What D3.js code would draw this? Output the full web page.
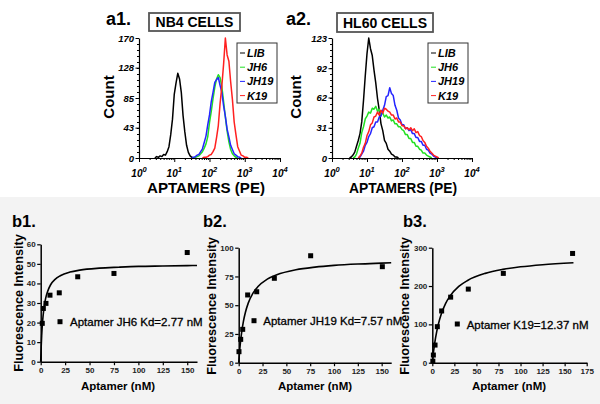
<!DOCTYPE html>
<html><head><meta charset="utf-8">
<script src="https://cdn.jsdelivr.net/npm/d3@7"></script>
<style>
body{margin:0;background:#fff}
svg{display:block}
text{font-family:"Liberation Sans",Arial,Helvetica,sans-serif}
</style>
</head><body>
<svg id="c" width="600" height="404"></svg>
<script>
// ---------- DATA ----------
// Histogram channel positions (log10 of PE fluorescence)
const histLogX = [
0.40,0.45,0.50,0.55,0.60,0.65,0.70,0.75,0.80,0.85,
0.90,0.95,1.00,1.05,1.10,1.15,1.20,1.25,1.30,1.35,
1.40,1.45,1.50,1.55,1.60,1.65,1.70,1.75,1.80,1.85,
1.90,1.95,2.00,2.05,2.10,2.15,2.20,2.25,2.30,2.35,
2.40,2.45,2.50,2.55,2.60,2.65,2.70,2.75,2.80,2.85,
2.90,2.95,3.00,3.05,3.10,3.15,3.20];
const histSeriesNames = ["LIB","JH6","JH19","K19"];
const histColors = ["#000000","#22e022","#2424ff","#ff2020"];

// a1 NB4 cells
const a1LIB = [0,0,2,1,3,2,5,4,9,16, 33,55,90,106,120,112,93,60,37,18, 8,3,1,0,0,0,0,0,0,0, 0,0,0,0,0,0,0,0,0,0, 0,0,0,0,0,0,0,0,0,0, 0,0,0,0,0,0,0];
const a1JH6 = [0,0,0,0,0,0,0,0,0,0, 0,0,0,0,0,0,0,0,0,0, 0,0,0,0,1,2,3,6,9,14, 20,30,50,66,84,100,112,118,114,101, 80,58,38,23,12,6,3,1,0,0, 0,0,0,0,0,0,0];
const a1JH19 = [0,0,0,0,0,0,0,0,0,0, 0,0,0,0,0,0,0,0,0,0, 0,0,0,1,2,4,5,9,13,22, 31,47,61,80,93,107,111,114,103,93, 74,59,41,30,18,12,6,4,2,1, 0,0,0,0,0,0,0];
const a1K19 = [0,0,0,0,0,0,0,0,0,0, 0,0,0,0,0,0,0,0,0,0, 0,0,0,0,0,0,0,0,0,1, 1,2,4,5,9,14,29,46,77,102, 133,170,146,137,108,83,51,33,16,10, 4,3,1,1,0,0,0];
// a2 HL60 cells
const a2LIB = [0,0,0,1,3,6,12,18,25,37, 59,84,107,123,112,105,90,77,61,49, 35,28,18,15,9,7,4,3,1,1, 0,0,0,0,0,0,0,0,0,0, 0,0,0,0,0,0,0,0,0,0, 0,0,0,0,0,0,0];
const a2JH6 = [0,0,0,0,0,1,4,10,15,26, 32,40,43,47,46,51,50,53,48,50, 45,46,42,44,41,42,38,39,35,35, 32,32,29,28,24,24,20,20,16,16, 12,12,9,8,5,5,3,2,1,0, 0,0,0,0,0,0,0];
const a2JH19 = [0,0,0,0,0,0,0,0,1,4, 7,13,16,22,25,31,32,37,37,42, 43,49,54,63,64,72,66,64,54,49, 41,39,34,34,30,31,28,29,25,25, 21,21,17,17,13,13,9,8,5,4, 2,1,0,0,0,0,0];
const a2K19 = [0,0,0,0,0,0,0,0,2,5, 11,15,23,27,34,36,42,43,47,44, 49,46,51,50,48,47,44,44,40,41, 37,37,33,33,30,31,29,31,28,30, 26,27,23,22,18,16,12,10,7,5, 3,2,1,0,0,0,0];

const a1YTicks = [0,43,85,128,170];
const a2YTicks = [0,31,62,92,123];
const histXTicks = [1,10,100,1000,10000];
const histXExp = ["0","1","2","3","4"];

// b panels: binding points (Aptamer nM, fluorescence intensity)
const b1X = [1.6,2.7,5.4,9.5,19,37.9,75,150];
const b1Y = [19.6,27.2,29.8,34,35.2,43.4,45.1,55.8];
const b1FitX = [0,0.5,1,2,3,4,5,7,10,15,20,30,40,60,80,100,125,150,160];
const b1FitY = [0,7.6,13.3,21.0,26.0,29.5,32.2,35.8,39.2,42.2,43.9,45.8,46.8,47.8,48.3,48.7,48.9,49.1,49.2];
const b2X = [0.3,2.1,4.2,9.4,18.9,37.4,75.5,150.7];
const b2Y = [9.6,20.3,29,58.9,61.7,73.4,93,83.5];
const b2FitX = [0,1,2,3,5,7,10,15,20,30,40,60,80,100,125,150,160];
const b2FitY = [0,10.6,19.0,25.8,36.2,43.7,51.8,60.5,66.0,72.7,76.5,80.8,83.1,84.6,85.8,86.6,86.9];
const b3X = [0.6,1.2,3.1,5.7,10.6,20.8,40.8,80.5,159];
const b3Y = [4,20,46,94,135,171,192,233,285];
const b3FitX = [0,1,2,3,5,7,10,15,20,30,40,60,80,100,125,160];
const b3FitY = [0,21.0,39.1,54.8,80.9,101.5,125.6,154.0,173.6,199.0,214.6,233.0,243.4,250.1,255.7,260.8];

const b1YTicks = [0,10,20,30,40,50,60];
const b2YTicks = [0,25,50,75,100];
const b3YTicks = [0,100,200,300];
const b12XTicks = [0,25,50,75,100,125,150];
const b3XTicks = [0,25,50,75,100,125,150,175];

// ---------- DRAW ----------
const svg = d3.select("#c");
svg.append("rect").attr("x",0).attr("y",0).attr("width",600).attr("height",197).attr("fill","#ffffff");
svg.append("rect").attr("x",0).attr("y",197).attr("width",600).attr("height",207).attr("fill","#f3f3f3");

function histPanel(o){
  const g = svg.append("g");
  const x = d3.scaleLog().domain([1,1e4]).range([o.x0,o.x1]);
  const y = d3.scaleLinear().domain([0,o.yMax]).range([o.yb,o.yt]);
  const line = d3.line().x(d=>x(d[0])).y(d=>y(d[1]));
  o.series.forEach((vals,si)=>{
    const first = vals.findIndex(v=>v>0);
    let last = vals.length-1; while(last>0 && vals[last]===0) last--;
    const a = Math.max(0,first-1), b = Math.min(vals.length-1,last+1);
    const pts=[]; for(let i=a;i<=b;i++) pts.push([Math.pow(10,histLogX[i]), vals[i]]);
    g.append("path").attr("d",line(pts)).attr("fill","none")
      .attr("stroke",histColors[si]).attr("stroke-width",1.5).attr("stroke-linejoin","round");
  });
  const yMinor = d3.range(0,o.yMax+0.001,o.yMax/20);
  g.append("g").attr("transform",`translate(${o.x0},0)`)
    .call(d3.axisLeft(y).tickValues(yMinor).tickSize(2).tickSizeOuter(0).tickFormat(""))
    .call(s=>s.select(".domain").remove());
  const ya = g.append("g").attr("transform",`translate(${o.x0},0)`)
    .call(d3.axisLeft(y).tickValues(o.yTicks).tickSize(3.5).tickPadding(1.5).tickSizeOuter(0));
  ya.selectAll("text").attr("font-size",9.5).attr("font-weight","bold").attr("font-style","italic").attr("fill","#000");
  const xMinor=[]; [1,10,100,1000].forEach(d=>{for(let k=2;k<10;k++) xMinor.push(d*k);});
  g.append("g").attr("transform",`translate(0,${o.yb})`)
    .call(d3.axisBottom(x).tickValues(xMinor).tickSize(2).tickSizeOuter(0).tickFormat(""))
    .call(s=>s.select(".domain").remove());
  g.append("g").attr("transform",`translate(0,${o.yb})`)
    .call(d3.axisBottom(x).tickValues(histXTicks).tickSize(4).tickSizeOuter(0).tickFormat(""));
  g.selectAll(".domain").attr("stroke","#000").attr("stroke-width",1.2);
  histXTicks.forEach((t,i)=>{
    const tx = g.append("text").attr("x",x(t)).attr("y",o.yb+18.5).attr("text-anchor","middle")
      .attr("font-size",10).attr("font-weight","bold").attr("font-style","italic");
    tx.append("tspan").text("10");
    tx.append("tspan").attr("dy",-5).attr("font-size",7.5).text(histXExp[i]);
  });
  g.append("text").attr("transform",`translate(${o.countX},97) rotate(-90)`).attr("text-anchor","middle")
    .attr("font-size",15).attr("font-weight","bold").text("Count");
  g.append("text").attr("x",o.xlabX).attr("y",193).attr("text-anchor","middle")
    .attr("font-size",15).attr("font-weight","bold").attr("textLength",o.xlabW).attr("lengthAdjust","spacingAndGlyphs")
    .text("APTAMERS (PE)");
  g.append("rect").attr("x",o.tb[0]).attr("y",o.tb[1]).attr("width",o.tb[2]).attr("height",o.tb[3])
    .attr("fill","#fff").attr("stroke","#555").attr("stroke-width",1.8);
  g.append("text").attr("x",o.tb[0]+o.tb[2]/2).attr("y",o.tb[1]+o.tb[3]/2+5).attr("text-anchor","middle")
    .attr("font-size",14).attr("font-weight","bold").text(o.title);
  g.append("text").attr("x",o.tagX).attr("y",25).attr("font-size",18).attr("font-weight","bold").text(o.tag);
  const lg = g.append("g");
  lg.append("rect").attr("x",o.lg[0]).attr("y",o.lg[1]).attr("width",o.lg[2]).attr("height",o.lg[3])
    .attr("fill","#fff").attr("stroke","#333").attr("stroke-width",1);
  histSeriesNames.forEach((n,i)=>{
    const cy = o.lg[1]+10+i*14.2;
    lg.append("line").attr("x1",o.lg[0]+3).attr("x2",o.lg[0]+8).attr("y1",cy).attr("y2",cy)
      .attr("stroke",histColors[i]).attr("stroke-width",1);
    lg.append("text").attr("x",o.lg[0]+10).attr("y",cy+4).attr("font-size",11)
      .attr("font-weight","bold").attr("font-style","italic").text(n);
  });
}

histPanel({x0:139,x1:280,yt:38,yb:158,yMax:170,yTicks:a1YTicks,series:[a1LIB,a1JH6,a1JH19,a1K19],
  countX:114,xlabX:206,xlabW:118,tb:[149,13,91,18],title:"NB4 CELLS",tag:"a1.",tagX:106,lg:[237,43,40,60]});
histPanel({x0:332,x1:472,yt:38,yb:158,yMax:123,yTicks:a2YTicks,series:[a2LIB,a2JH6,a2JH19,a2K19],
  countX:301,xlabX:403,xlabW:108,tb:[337,13,96,19],title:"HL60 CELLS",tag:"a2.",tagX:286,lg:[428,43,40,60]});

function bindPanel(o){
  const g = svg.append("g");
  const x = d3.scaleLinear().domain([0,o.xMax]).range([o.x0,o.x1]);
  const y = d3.scaleLinear().domain([0,o.yMax]).range([o.yb,o.yt]);
  g.append("g").attr("transform",`translate(${o.x0},0)`)
    .call(d3.axisLeft(y).tickValues(o.yTicks).tickSize(3.5).tickPadding(1.5).tickSizeOuter(0));
  g.append("g").attr("transform",`translate(0,${o.yb})`)
    .call(d3.axisBottom(x).tickValues(o.xTicks).tickSize(3.5).tickPadding(2).tickSizeOuter(0));
  g.selectAll(".domain").attr("stroke","#000").attr("stroke-width",1.5);
  g.selectAll(".tick line").attr("stroke","#000").attr("stroke-width",1.2);
  g.selectAll(".tick text").attr("font-size",8).attr("font-weight","bold").attr("fill","#222");
  const line = d3.line().x((d,i)=>x(o.fitX[i])).y((d,i)=>y(o.fitY[i])).curve(d3.curveMonotoneX);
  g.append("path").attr("d",line(o.fitX)).attr("fill","none").attr("stroke","#000").attr("stroke-width",1.6);
  g.selectAll("rect.pt").data(o.px).enter().append("rect").attr("class","pt")
    .attr("x",(d,i)=>x(d)-2.5).attr("y",(d,i)=>y(o.py[i])-2.5).attr("width",5).attr("height",5).attr("fill","#000");
  g.append("rect").attr("x",o.ann[0]-2.5).attr("y",o.ann[1]-2.5).attr("width",5).attr("height",5).attr("fill","#000");
  g.append("text").attr("x",o.ann[2]).attr("y",o.ann[3]).attr("font-size",11.5).attr("fill","#000")
    .attr("stroke","#000").attr("stroke-width",0.3).text(o.annText);
  g.append("text").attr("transform",`translate(${o.fiX},${o.fiY}) rotate(-90)`).attr("text-anchor","middle")
    .attr("font-size",12.7).attr("font-weight","bold").text("Fluorescence Intensity");
  g.append("text").attr("x",o.apX).attr("y",390).attr("text-anchor","middle").attr("font-size",11.5)
    .attr("font-weight","bold").text("Aptamer (nM)");
  g.append("text").attr("x",o.tagX).attr("y",227).attr("font-size",16.5).attr("font-weight","bold").text(o.tag);
}

bindPanel({x0:40.7,x1:197,xMax:160,yb:361.7,yt:244.3,yMax:60,yTicks:b1YTicks,xTicks:b12XTicks,
  fitX:b1FitX,fitY:b1FitY,px:b1X,py:b1Y,ann:[60,321.7,70,326],annText:"Aptamer JH6 Kd=2.77 nM",
  fiX:23,fiY:303,apX:118,tagX:12,tag:"b1."});
bindPanel({x0:238.7,x1:391.2,xMax:160,yb:362.7,yt:247.7,yMax:100,yTicks:b2YTicks,xTicks:b12XTicks,
  fitX:b2FitX,fitY:b2FitY,px:b2X,py:b2Y,ann:[254,320.7,263.3,325],annText:"Aptamer JH19 Kd=7.57 nM",
  fiX:216,fiY:306,apX:315,tagX:203,tag:"b2."});
bindPanel({x0:432.3,x1:586.7,xMax:175,yb:362.7,yt:247.7,yMax:300,yTicks:b3YTicks,xTicks:b3XTicks,
  fitX:b3FitX,fitY:b3FitY,px:b3X,py:b3Y,ann:[457.3,324,466.7,328.5],annText:"Aptamer K19=12.37 nM",
  fiX:408.5,fiY:306,apX:509,tagX:403,tag:"b3."});
</script>
</body></html>
